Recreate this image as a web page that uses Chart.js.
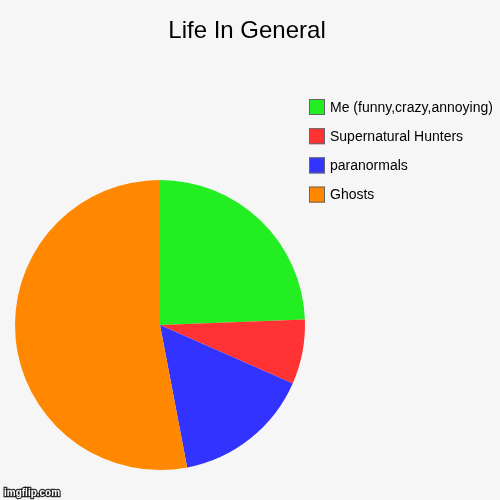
<!DOCTYPE html>
<html>
<head>
<meta charset="utf-8">
<script src="https://cdn.jsdelivr.net/npm/chart.js@4"></script>
<style>
html,body{margin:0;padding:0;background:#f6f6f6;}
canvas{display:block;}
</style>
</head>
<body>
<canvas id="c" width="500" height="500"></canvas>
<script>
const titleText = "Life In General";
const categories = ["Me (funny,crazy,annoying)", "Supernatural Hunters", "paranormals", "Ghosts"];
const values = [24.4, 7.2, 15.4, 53.0];
const colors = ["#22ee22", "#ff3333", "#3333ff", "#ff8800"];

const customLegend = {
  id: 'customLegend',
  afterDraw(chart) {
    const ctx = chart.ctx;
    const labels = chart.data.labels;
    const bg = chart.data.datasets[0].backgroundColor;
    ctx.save();
    // title
    ctx.font = '24px "Liberation Sans", Arial, sans-serif';
    ctx.textAlign = 'center';
    ctx.textBaseline = 'middle';
    ctx.fillStyle = '#000';
    ctx.fillText(titleText, 247, 31);
    // legend
    ctx.font = '14px "Liberation Sans", Arial, sans-serif';
    ctx.textBaseline = 'middle';
    ctx.textAlign = 'left';
    for (let i = 0; i < labels.length; i++) {
      const cy = 107 + i * 29.2;
      ctx.fillStyle = bg[i];
      ctx.fillRect(309, cy - 8, 16, 16);
      ctx.strokeStyle = '#666';
      ctx.lineWidth = 1;
      ctx.strokeRect(309.5, cy - 7.5, 15, 15);
      ctx.fillStyle = '#000';
      ctx.fillText(labels[i], 330, cy + 1);
    }
    // watermark
    ctx.font = 'bold 10px "Liberation Sans", Arial, sans-serif';
    ctx.textBaseline = 'alphabetic';
    ctx.lineWidth = 2.5;
    ctx.strokeStyle = 'rgba(0,0,0,0.8)';
    ctx.strokeText('imgflip.com', 4, 496);
    ctx.fillStyle = '#fff';
    ctx.fillText('imgflip.com', 4, 496);
    ctx.restore();
  }
};

new Chart(document.getElementById('c'), {
  type: 'pie',
  data: {
    labels: categories,
    datasets: [{
      data: values,
      backgroundColor: colors,
      borderWidth: 0
    }]
  },
  options: {
    responsive: false,
    animation: false,
    layout: { padding: { left: 15, right: 195, top: 180, bottom: 30 } },
    plugins: {
      legend: { display: false },
      tooltip: { enabled: false },
      title: { display: false }
    }
  },
  plugins: [customLegend]
});
</script>
</body>
</html>
